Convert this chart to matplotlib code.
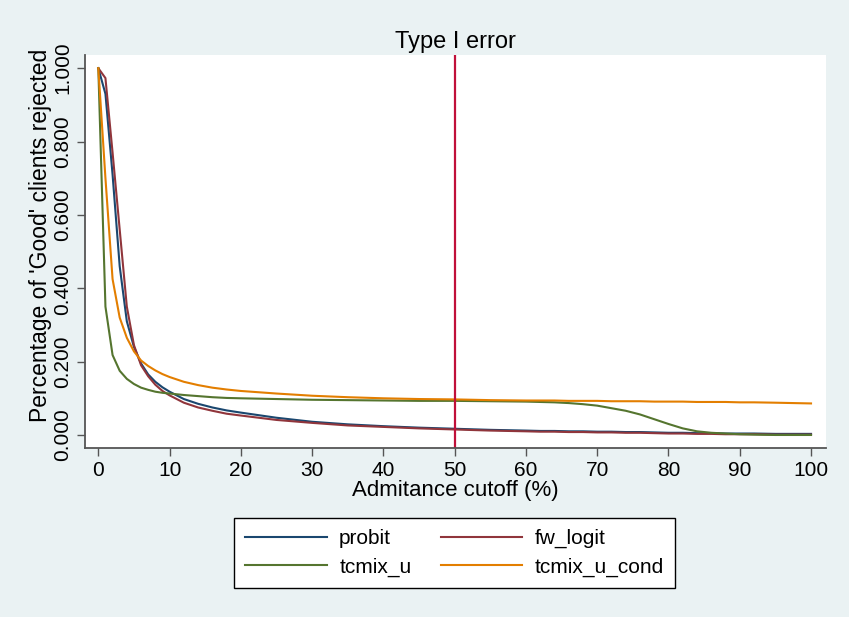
# Type I error curves by admittance cutoff
import matplotlib
matplotlib.use("Agg")
import matplotlib.pyplot as plt

plt.rcParams['font.family'] = ['Liberation Sans', 'DejaVu Sans']

# data
cutoff = [0, 1, 2, 3, 4, 5, 6, 7, 8, 9, 10, 12, 14, 16, 18, 20, 25, 30, 35, 40,
          45, 50, 55, 60, 62, 64, 66, 68, 70, 72, 74, 76, 78, 80, 82, 84, 86, 88,
          90, 92, 95, 100]
probit = [1.0, 0.93, 0.71, 0.46, 0.31, 0.24, 0.195, 0.165, 0.145, 0.13, 0.118,
          0.098, 0.085, 0.075, 0.067, 0.061, 0.047, 0.036, 0.029, 0.024, 0.020,
          0.017, 0.014, 0.012, 0.011, 0.011, 0.010, 0.010, 0.009, 0.009, 0.008,
          0.008, 0.007, 0.006, 0.006, 0.005, 0.005, 0.004, 0.004, 0.004, 0.003,
          0.003]
fw_logit = [1.0, 0.973, 0.77, 0.56, 0.35, 0.245, 0.19, 0.16, 0.137, 0.12, 0.108,
            0.088, 0.075, 0.066, 0.058, 0.053, 0.041, 0.033, 0.026, 0.022, 0.018,
            0.015, 0.012, 0.010, 0.009, 0.009, 0.008, 0.008, 0.007, 0.007, 0.006,
            0.006, 0.005, 0.004, 0.004, 0.003, 0.003, 0.002, 0.002, 0.002, 0.001,
            0.001]
tcmix_u = [1.0, 0.35, 0.218, 0.175, 0.153, 0.139, 0.129, 0.123, 0.118, 0.115,
           0.113, 0.109, 0.106, 0.103, 0.101, 0.100, 0.098, 0.096, 0.095, 0.094,
           0.093, 0.093, 0.092, 0.091, 0.090, 0.089, 0.087, 0.084, 0.080, 0.073,
           0.066, 0.056, 0.043, 0.030, 0.018, 0.010, 0.006, 0.004, 0.002, 0.001,
           0.0, 0.0]
tcmix_u_cond = [1.0, 0.70, 0.425, 0.32, 0.265, 0.228, 0.203, 0.188, 0.176,
                0.166, 0.158, 0.145, 0.136, 0.129, 0.124, 0.120, 0.113, 0.107,
                0.103, 0.100, 0.098, 0.097, 0.095, 0.094, 0.094, 0.094, 0.093,
                0.093, 0.093, 0.092, 0.092, 0.092, 0.091, 0.091, 0.091, 0.090,
                0.090, 0.090, 0.089, 0.089, 0.088, 0.086]
x_ticks = [0, 10, 20, 30, 40, 50, 60, 70, 80, 90, 100]
y_ticks = [0.0, 0.2, 0.4, 0.6, 0.8, 1.0]
cut_line = 50

bg = '#eaf2f3'
fig = plt.figure(figsize=(8.49, 6.17), dpi=100, facecolor=bg)
ax = fig.add_axes([0.1001, 0.2739, 0.8728, 0.637])
ax.set_facecolor('white')

l1, = ax.plot(cutoff, probit, color='#1a476f', lw=1.5, label='probit')
l2, = ax.plot(cutoff, fw_logit, color='#90353b', lw=1.5, label='fw_logit')
l3, = ax.plot(cutoff, tcmix_u, color='#55752f', lw=1.5, label='tcmix_u')
l4, = ax.plot(cutoff, tcmix_u_cond, color='#e37e00', lw=1.5, label='tcmix_u_cond')
ax.axvline(cut_line, color='#c0103a', lw=1.6)

ax.set_xlim(-1.87, 102.1)
ax.set_ylim(-0.0355, 1.036)
ax.set_xticks(x_ticks)
ax.set_yticks(y_ticks)
ax.set_yticklabels(['%.3f' % v for v in y_ticks], rotation=90, va='center')

for s in ['top', 'right']:
    ax.spines[s].set_visible(False)
for s in ['left', 'bottom']:
    ax.spines[s].set_color('#555555')
    ax.spines[s].set_linewidth(1.3)
ax.tick_params(axis='both', direction='out', length=6, width=1,
               color='#555555', labelsize=15)
ax.tick_params(axis='y', pad=3)

ax.set_title('Type I error', fontsize=17, pad=5)
ax.set_xlabel('Admitance cutoff (%)', fontsize=16, labelpad=0)
ax.set_ylabel("Percentage of 'Good' clients rejected", fontsize=16.5)
ax.yaxis.set_label_coords(-0.045, 0.542)

# legend filled row by row like the original
leg = fig.legend([l1, l3, l2, l4], ['probit', 'tcmix_u', 'fw_logit', 'tcmix_u_cond'],
                 ncol=2, loc='center', bbox_to_anchor=(0.5353, 0.1037),
                 fontsize=15, frameon=True, fancybox=False, edgecolor='black',
                 facecolor='white', framealpha=1,
                 handlelength=3.9, handletextpad=0.6, columnspacing=1.4,
                 labelspacing=0.45, borderpad=0.55)
leg.get_frame().set_linewidth(1.0)

plt.savefig('out.png', dpi=100, facecolor=bg)
